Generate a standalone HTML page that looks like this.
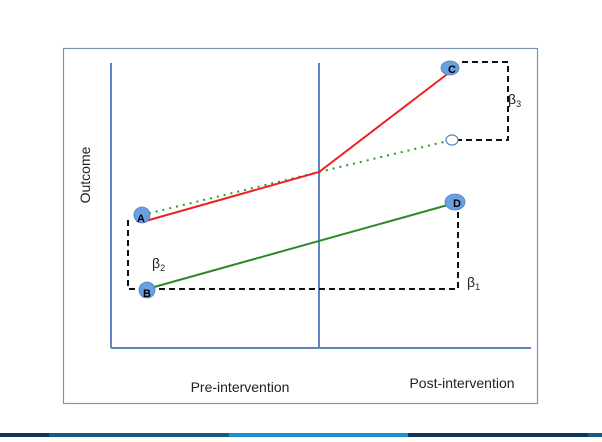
<!DOCTYPE html>
<html><head><style>body{margin:0;background:#fff;width:602px;height:437px;overflow:hidden}</style></head>
<body>
<svg width="602" height="437" viewBox="0 0 602 437" xmlns="http://www.w3.org/2000/svg" font-family="Liberation Sans, sans-serif">
<rect x="63.5" y="48.5" width="474" height="355" fill="#fff" stroke="#7f93b5" stroke-width="1.2"/>
<line x1="111" y1="63" x2="111" y2="348" stroke="#5b86c0" stroke-width="2"/>
<line x1="111" y1="348" x2="531" y2="348" stroke="#5b86c0" stroke-width="2"/>
<line x1="319" y1="63" x2="319" y2="348" stroke="#5b86c0" stroke-width="2"/>
<g stroke="#111" stroke-width="2" stroke-dasharray="6,4" fill="none">
<polyline points="128,220 128,289 458,289 458,210"/>
<polyline points="462,62 508,62 508,140 458,140"/>
</g>
<line x1="142" y1="215" x2="319" y2="172" stroke="#2a9a2a" stroke-width="2" stroke-dasharray="2,5"/>
<line x1="319" y1="172" x2="452" y2="140" stroke="#2a9a2a" stroke-width="2" stroke-dasharray="2,5"/>
<polyline points="142,222 319,172 450,72" fill="none" stroke="#f02020" stroke-width="2"/>
<line x1="147" y1="289" x2="455" y2="203" stroke="#2a8a2a" stroke-width="2"/>
<ellipse cx="452" cy="140" rx="6" ry="5" fill="#fff" stroke="#5b86c0" stroke-width="1.2"/>
<g fill="#6a9fe0" stroke="#4a7fc0" stroke-width="0.8">
<circle cx="142" cy="215" r="8"/><circle cx="147" cy="290" r="8"/>
<ellipse cx="450" cy="68" rx="9" ry="7"/><ellipse cx="455" cy="202" rx="10" ry="8"/>
</g>
<g font-size="11" font-weight="bold" text-anchor="middle" fill="#000">
<text x="141" y="222">A</text><text x="147" y="297">B</text><text x="452" y="73">C</text><text x="457" y="207">D</text>
</g>
<g font-size="14" fill="#222">
<text x="152" y="268">β<tspan font-size="9" dy="3">2</tspan></text>
<text x="467" y="287">β<tspan font-size="9" dy="3">1</tspan></text>
<text x="508" y="104">β<tspan font-size="9" dy="3">3</tspan></text>
</g>
<text transform="translate(90,175) rotate(-90)" font-size="14" text-anchor="middle" fill="#222">Outcome</text>
<text x="240" y="392" font-size="14" text-anchor="middle" fill="#222">Pre-intervention</text>
<text x="462" y="388" font-size="14" text-anchor="middle" fill="#222">Post-intervention</text>
<rect x="0" y="433" width="49" height="4" fill="#0d3557"/>
<rect x="49" y="433" width="180" height="4" fill="#1a5a80"/>
<rect x="229" y="433" width="179" height="4" fill="#1b90cf"/>
<rect x="408" y="433" width="180" height="4" fill="#0d3557"/>
<rect x="588" y="433" width="14" height="4" fill="#1a5a80"/>
</svg>
</body></html>
